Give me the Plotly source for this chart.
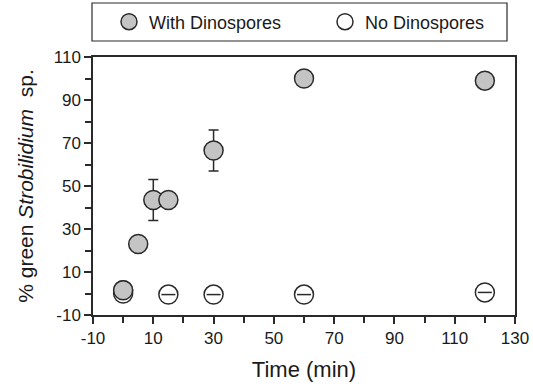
import plotly.graph_objects as go

# Data
time_with = [0, 5, 10, 15, 30, 60, 120]
green_with = [1.5, 23, 43.5, 43.5, 66.5, 100, 99]
err_with = [0, 0, 9.5, 0, 9.5, 0, 0]

time_no = [0, 15, 30, 60, 120]
green_no = [0, -0.5, -0.5, -0.5, 0.5]

x_ticks = [-10, 10, 30, 50, 70, 90, 110, 130]
y_ticks = [-10, 10, 30, 50, 70, 90, 110]

FONT = "Arial, Liberation Sans, sans-serif"
DARK = "#2a2a2a"
TXT = "#1a1a1a"

W, H = 533, 391
# plot area in page pixels
L, R, T, B = 93, 515, 57, 315
def px_x(p):
    return (p - L) / (R - L)
def px_y(p):
    return (B - p) / (B - T)

fig = go.Figure()

fig.add_trace(go.Scatter(
    x=time_with, y=green_with, mode="markers", name="With Dinospores",
    legend="legend",
    error_y=dict(type="data", array=err_with, visible=True,
                 color=DARK, thickness=1.5, width=5),
    marker=dict(symbol="circle", size=19, color="#c4c4c4",
                line=dict(color=DARK, width=1.5)),
))
fig.add_trace(go.Scatter(
    x=time_no, y=green_no, mode="markers", name="No Dinospores",
    legend="legend2",
    marker=dict(symbol="circle", size=19, color="white",
                line=dict(color=DARK, width=1.5)),
))
fig.add_trace(go.Scatter(
    x=time_no, y=green_no, mode="markers", showlegend=False, hoverinfo="skip",
    marker=dict(symbol="line-ew", size=10, color=DARK,
                line=dict(color=DARK, width=1.5)),
))
# redraw the "with" marker at t=0 on top so it covers the open one
fig.add_trace(go.Scatter(
    x=time_with[:1], y=green_with[:1], mode="markers", showlegend=False, hoverinfo="skip",
    marker=dict(symbol="circle", size=19, color="#c4c4c4",
                line=dict(color=DARK, width=1.5)),
))

axis_common = dict(
    showline=True, linecolor=DARK, linewidth=1.5, mirror=True,
    ticks="outside", ticklen=7, tickwidth=1.5, tickcolor=DARK,
    showgrid=False, zeroline=False, automargin=False,
    tickfont=dict(family=FONT, size=17, color=TXT),
)

fig.update_xaxes(
    range=[-10, 130], tickvals=x_ticks, ticktext=[str(v) for v in x_ticks],
    title=dict(text="Time (min)", font=dict(family=FONT, size=22, color=TXT), standoff=14),
    minor=dict(ticks="outside", ticklen=6, tickwidth=1.5, tickcolor=DARK, tick0=0, dtick=20),
    **axis_common,
)
fig.update_yaxes(
    range=[-10, 110], tickvals=y_ticks, ticktext=[str(v) for v in y_ticks],
    title=dict(text="% green <i>Strobilidium</i>  sp.", font=dict(family=FONT, size=21, color=TXT), standoff=14),
    minor=dict(ticks="outside", ticklen=6, tickwidth=1.5, tickcolor=DARK, tick0=0, dtick=20),
    **axis_common,
)

legend_common = dict(
    orientation="h", xanchor="left", yanchor="middle",
    bgcolor="rgba(0,0,0,0)", borderwidth=0,
    font=dict(family=FONT, size=18, color=TXT),
)

fig.update_layout(
    width=W, height=H,
    margin=dict(l=L, r=W - R, t=T, b=H - B, autoexpand=False),
    paper_bgcolor="white", plot_bgcolor="white",
    showlegend=True,
    legend=dict(x=px_x(109), y=px_y(22), **legend_common),
    legend2=dict(x=px_x(325), y=px_y(22), **legend_common),
    shapes=[dict(type="rect", xref="paper", yref="paper",
                 x0=px_x(92), x1=px_x(507), y0=px_y(41), y1=px_y(3),
                 line=dict(color=DARK, width=1.2), fillcolor="rgba(0,0,0,0)")],
)

# remove the browser's default page margin so the figure sits at the window's corner
fig.write_html("out.html", config={"displayModeBar": False},
               post_script="document.body.style.margin='0';")
